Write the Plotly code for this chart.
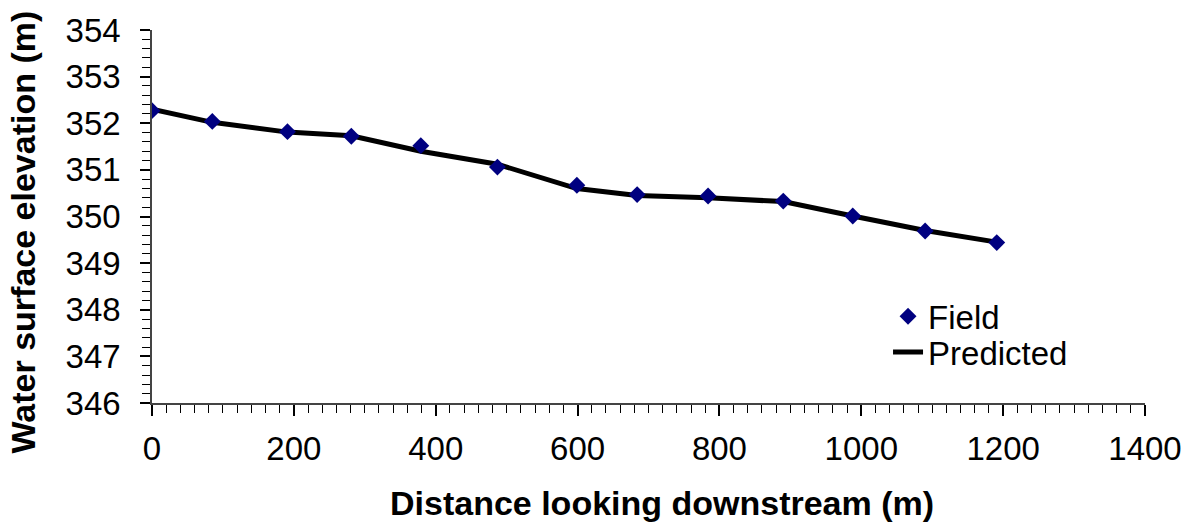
import plotly.graph_objects as go

# Data
distance_m = [0, 85, 191, 281, 379, 487, 599, 684, 784, 890, 988, 1090, 1191]
field_elev = [352.27, 352.04, 351.82, 351.72, 351.52, 351.06, 350.67, 350.47, 350.44, 350.33, 350.01, 349.69, 349.44]
predicted_elev = [352.30, 352.02, 351.81, 351.73, 351.40, 351.12, 350.60, 350.45, 350.40, 350.32, 350.01, 349.70, 349.45]

x_title = "Distance looking downstream (m)"
y_title = "Water surface elevation (m)"

FONT = "Liberation Sans, Arial, sans-serif"
FS_TICK = 33
FS_TITLE = 34
FS_LEG = 33

fig = go.Figure()
fig.add_trace(go.Scatter(
    x=distance_m, y=predicted_elev, mode="lines", name="Predicted",
    line=dict(color="black", width=5), legend="legend2",
))
fig.add_trace(go.Scatter(
    x=distance_m, y=field_elev, mode="markers", name="Field",
    marker=dict(symbol="diamond", size=13, color="#000080", line=dict(width=0)),
    legend="legend",
))

L, R, T, B = 152, 45, 29, 121
W, H = 1194, 524
pw = W - L - R
ph = H - T - B

def px_x(p):
    return (p - L) / pw

def px_y(p):
    return (H - B - p) / ph

axis_common = dict(
    showgrid=False, zeroline=False, showline=True, linecolor="#444", linewidth=1.5,
    ticks="outside", tickcolor="black", tickwidth=1.5,
    tickfont=dict(family=FONT, size=FS_TICK, color="black"),
)

fig.update_layout(
    width=W, height=H,
    margin=dict(l=L, r=R, t=T, b=B, pad=0),
    paper_bgcolor="white", plot_bgcolor="white",
    font=dict(family=FONT, size=FS_TICK, color="black"),
    xaxis=dict(range=[0, 1400], dtick=200, tick0=0, ticklen=11,
               minor=dict(dtick=20, ticklen=8, ticks="outside", tickcolor="black", tickwidth=1, showgrid=False),
               ticklabelstandoff=5, **axis_common),
    yaxis=dict(range=[346, 354], dtick=1, tick0=346, ticklen=10,
               minor=dict(dtick=0.2, ticklen=8, ticks="outside", tickcolor="black", tickwidth=1, showgrid=False),
               ticklabelstandoff=13, **axis_common),
    legend=dict(x=px_x(891), y=px_y(316), xanchor="left", yanchor="middle",
                bgcolor="rgba(0,0,0,0)", borderwidth=0,
                font=dict(family=FONT, size=FS_LEG, color="black")),
    legend2=dict(x=px_x(891), y=px_y(352), xanchor="left", yanchor="middle",
                 bgcolor="rgba(0,0,0,0)", borderwidth=0,
                 font=dict(family=FONT, size=FS_LEG, color="black")),
    showlegend=True,
    annotations=[
        dict(text="<b>" + x_title + "</b>", xref="paper", yref="paper",
             x=px_x(664.5), y=px_y(503), xanchor="center", yanchor="middle",
             showarrow=False, font=dict(family=FONT, size=FS_TITLE, color="black")),
        dict(text="<b>" + y_title + "</b>", xref="paper", yref="paper",
             x=px_x(22.5), y=px_y(232), xanchor="center", yanchor="middle",
             textangle=-90, showarrow=False, font=dict(family=FONT, size=FS_TITLE, color="black")),
    ],
)

fig.write_html("out.html")
